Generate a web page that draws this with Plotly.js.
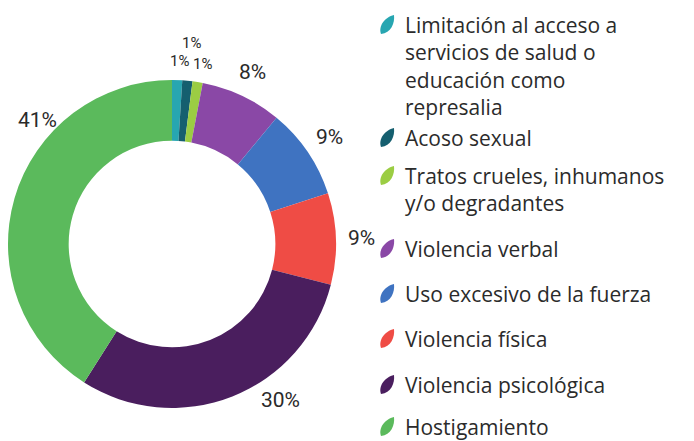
<!DOCTYPE html>
<html>
<head>
<meta charset="utf-8">
<script src="https://cdn.plot.ly/plotly-3.0.1.min.js"></script>
<style>
  html, body { margin: 0; padding: 0; background: #fff; }
  #chart { width: 694px; height: 441px; }
</style>
</head>
<body>
<div id="chart"></div>
<script>
// categorías y valores (%)
const categories = [
  'Limitación al acceso a<br>servicios de salud o<br>educación como<br>represalia',
  'Acoso sexual',
  'Tratos crueles, inhumanos<br>y/o degradantes',
  'Violencia verbal',
  'Uso excesivo de la fuerza',
  'Violencia física',
  'Violencia psicológica',
  'Hostigamiento'
];
const values = [1, 1, 1, 8, 9, 9, 30, 41];
const colors = ['#27a6b1', '#155f6f', '#9bcd43', '#8a48a6', '#3f73c1', '#ef4c45', '#4a1e5e', '#5bba5c'];

// geometría (px) del anillo
const W = 694, H = 441;
const cx = 172, cy = 244, R = 164;

// posición vertical (línea base) de cada entrada de la leyenda
const legendBase = [32, 145, 183, 256, 301, 346, 392, 434];

const px = x => x / W;
const py = y => 1 - y / H;

const total = values.reduce((a, b) => a + b, 0);

// anotaciones de porcentaje
const annotations = [];
const shapes = [];
let cum = 0;
values.forEach((v, i) => {
  let ang = (cum + v / 2) / total * 360;
  cum += v;
  let r = 190, size = 21;
  if (v <= 1) { r = 183; size = 15; }
  if (i === 1) r = 202;          // el 1% del centro va más arriba
  if (i === 6) ang = 145;         // etiquetas grandes desplazadas
  if (i === 7) { ang = 312.5; r = 183; }
  if (i === 0) ang += 0.7;
  if (i === 2) ang += 0.6;
  const t = ang * Math.PI / 180;
  annotations.push({
    xref: 'paper', yref: 'paper',
    x: px(cx + r * Math.sin(t)), y: py(cy - r * Math.cos(t)),
    xanchor: 'center', yanchor: 'middle',
    text: Math.round(v / total * 100) + '%',
    showarrow: false,
    font: { family: 'Roboto', size: size, color: '#2a2a2a' }
  });
});

// leyenda personalizada (hojas + texto)
categories.forEach((c, i) => {
  annotations.push({
    xref: 'paper', yref: 'paper',
    x: px(403), y: py(legendBase[i] - 23),
    xanchor: 'left', yanchor: 'top', align: 'left',
    text: c, showarrow: false,
    font: { family: 'Open Sans', size: 21, color: '#2b2b2b' }
  });
  shapes.push({
    type: 'path', xref: 'paper', yref: 'paper',
    xsizemode: 'pixel', ysizemode: 'pixel',
    xanchor: px(387), yanchor: py(legendBase[i] - 7),
    path: 'M -6,-9 C -9,-1 -2,8 7,10 C 8,2 4,-8 -6,-9 Z',
    fillcolor: colors[i], line: { width: 0 }
  });
});

Plotly.newPlot('chart', [{
  type: 'pie',
  labels: categories,
  values: values,
  marker: { colors: colors, line: { width: 0 } },
  hole: 0.63,
  sort: false,
  direction: 'clockwise',
  rotation: 0,
  textinfo: 'none',
  domain: { x: [px(cx - R), px(cx + R)], y: [py(cy + R), py(cy - R)] }
}], {
  width: W, height: H,
  margin: { t: 0, b: 0, l: 0, r: 0 },
  showlegend: false,
  paper_bgcolor: '#fff',
  annotations: annotations,
  shapes: shapes
}, { displayModeBar: false, staticPlot: true });
</script>
</body>
</html>
